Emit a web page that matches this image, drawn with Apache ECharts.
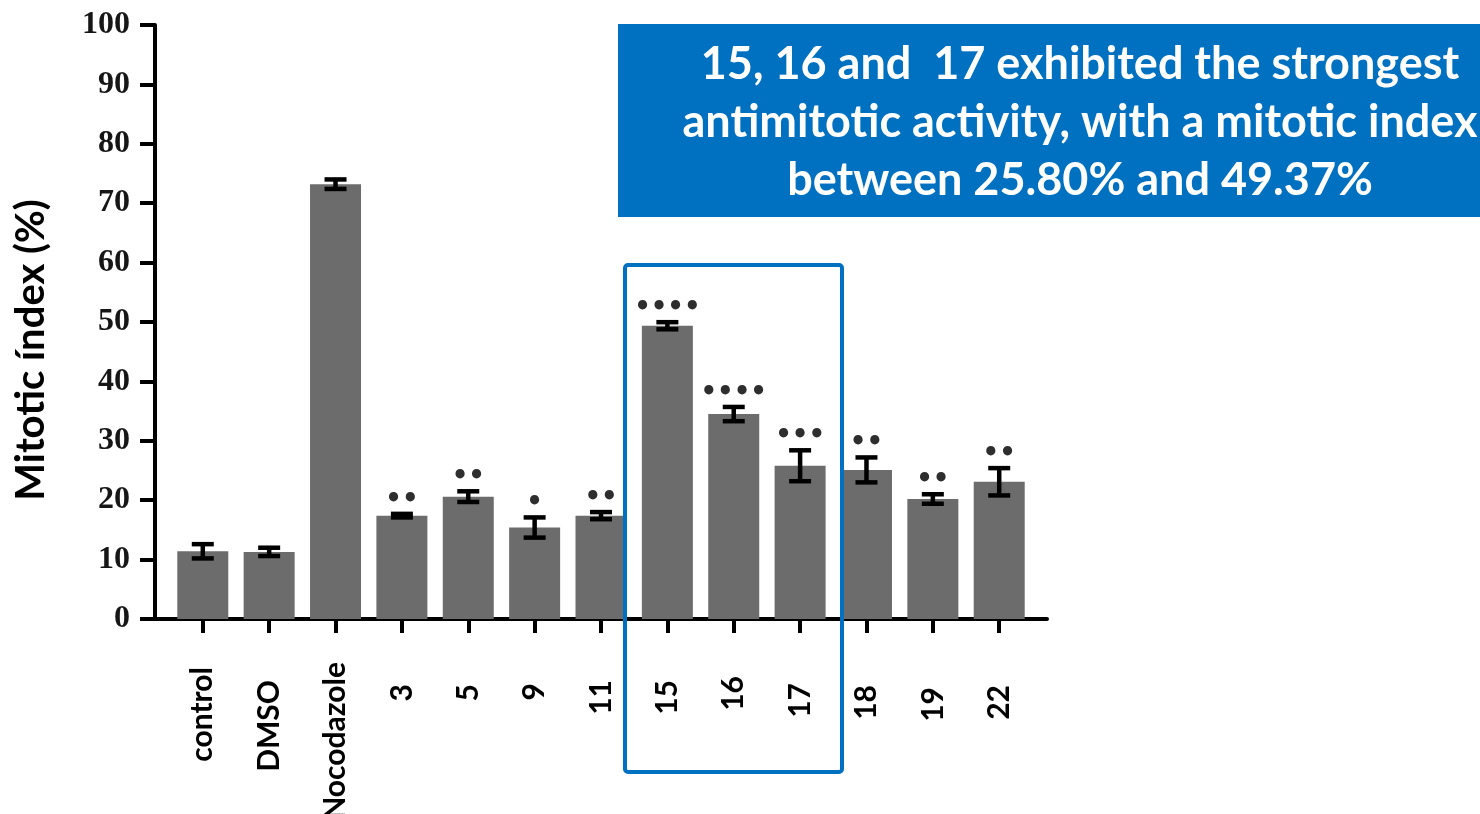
<!DOCTYPE html>
<html>
<head>
<meta charset="utf-8">
<script src="https://cdn.jsdelivr.net/npm/echarts@6/dist/echarts.min.js"></script>
<style>
  html, body { margin: 0; padding: 0; background: #ffffff; }
  #chart { width: 1480px; height: 814px; }
</style>
</head>
<body>
<div id="chart"></div>
<script>
// Mitotic index per treatment (mean ± SD) with significance marks
const categories = ['control', 'DMSO', 'Nocodazole', '3', '5', '9', '11', '15', '16', '17', '18', '19', '22'];
const meanValues = [11.4, 11.3, 73.2, 17.4, 20.6, 15.4, 17.4, 49.37, 34.5, 25.80, 25.1, 20.2, 23.1];
const sdValues   = [1.2, 0.7, 0.8, 0.3, 0.9, 1.7, 0.6, 0.6, 1.2, 2.6, 2.1, 0.8, 2.3];
const significance = ['', '', '', '**', '**', '*', '**', '****', '****', '***', '**', '**', '**'];
const yTickValues = [0, 10, 20, 30, 40, 50, 60, 70, 80, 90, 100];

const axisTitle = 'Mitotic índex (%)';
const noteLines = [
  '15, 16 and  17 exhibited the strongest',
  'antimitotic activity, with a mitotic index',
  'between 25.80% and 49.37%'
];

// extra gap (px) between axis and each rotated category label
const labelGap = [5, 18, 0, 22, 22, 21, 18, 18, 14, 21, 23, 25, 23];

const sansBold = 'Lato, "Open Sans", "Noto Sans", sans-serif';
const catIndex = categories.map((c, i) => i);

const rich = {};
labelGap.forEach((g, i) => {
  rich['c' + i] = {
    fontFamily: sansBold, fontWeight: 'bold', fontSize: 30, color: '#000',
    padding: [0, g, 0, 0]
  };
});

const chart = echarts.init(document.getElementById('chart'), null, { renderer: 'canvas' });

chart.setOption({
  animation: false,
  backgroundColor: '#ffffff',
  grid: {
    left: 155, right: 433, top: 25, bottom: 195,
    containLabel: false,
    outerBoundsMode: 'none'
  },
  xAxis: {
    type: 'value',
    min: -0.72,
    max: categories.length - 1 + 0.72,
    splitLine: { show: false },
    axisLine: { show: true, onZero: false, lineStyle: { color: '#000', width: 4 } },
    axisTick: { show: true, customValues: catIndex, length: 14, lineStyle: { color: '#000', width: 4 } },
    axisLabel: {
      show: true,
      customValues: catIndex,
      rotate: 90,
      margin: 43,
      formatter: v => {
        const i = Math.round(v);
        return '{c' + i + '|' + categories[i] + '}';
      },
      rich: rich
    }
  },
  yAxis: {
    type: 'value',
    min: 0,
    max: 100,
    interval: 10,
    splitLine: { show: false },
    axisLine: { show: true, onZero: false, lineStyle: { color: '#000', width: 4 } },
    axisTick: { show: true, length: 15, lineStyle: { color: '#000', width: 4 } },
    axisLabel: {
      margin: 25,
      color: '#161616',
      fontFamily: '"Liberation Serif", "DejaVu Serif", serif',
      fontWeight: 'bold',
      fontSize: 32,
      formatter: v => (yTickValues.indexOf(v) >= 0 ? String(v) : '')
    }
  },
  series: [
    {
      type: 'bar',
      barWidth: 51,
      itemStyle: { color: '#6c6c6c' },
      data: catIndex.map(i => [i, meanValues[i]]),
      z: 2
    },
    {
      type: 'custom',
      z: 3,
      data: catIndex.map(i => [i, meanValues[i], sdValues[i]]),
      renderItem: (params, api) => {
        const x = api.value(0);
        const m = api.value(1);
        const s = api.value(2);
        const hi = api.coord([x, m + s]);
        const lo = api.coord([x, m - s]);
        const cx = hi[0];
        const half = 11;
        const stroke = { stroke: '#000', lineWidth: 4.5 };
        const children = [
          { type: 'line', shape: { x1: cx, y1: hi[1], x2: cx, y2: lo[1] }, style: stroke },
          { type: 'line', shape: { x1: cx - half, y1: hi[1], x2: cx + half, y2: hi[1] }, style: stroke },
          { type: 'line', shape: { x1: cx - half, y1: lo[1], x2: cx + half, y2: lo[1] }, style: stroke }
        ];
        const mark = significance[params.dataIndex];
        if (mark) {
          children.push({
            type: 'text',
            style: {
              text: '\u2022'.repeat(mark.length),
              x: cx,
              y: hi[1] - 14,
              align: 'center',
              verticalAlign: 'middle',
              fill: '#2e2e2e',
              font: 'bold 26px "DejaVu Sans", sans-serif'
            }
          });
        }
        return { type: 'group', children: children };
      }
    }
  ],
  graphic: [
    {
      type: 'text',
      z: 100,
      x: 31,
      y: 350,
      rotation: Math.PI / 2,
      style: {
        text: axisTitle,
        align: 'center',
        verticalAlign: 'middle',
        fill: '#000',
        font: 'bold 40px ' + sansBold
      }
    },
    {
      type: 'rect',
      z: 100,
      shape: { x: 618, y: 24, width: 862, height: 193 },
      style: { fill: '#0070c0' }
    },
    {
      type: 'text',
      z: 101,
      x: 1080,
      y: 122,
      style: {
        text: noteLines.join('\n'),
        align: 'center',
        verticalAlign: 'middle',
        lineHeight: 58,
        fill: '#ffffff',
        font: 'bold 45px ' + sansBold
      }
    },
    {
      type: 'rect',
      z: 100,
      shape: { x: 625, y: 265, width: 217, height: 507, r: 3 },
      style: { fill: 'none', stroke: '#0070c0', lineWidth: 4 }
    }
  ]
});
</script>
</body>
</html>
